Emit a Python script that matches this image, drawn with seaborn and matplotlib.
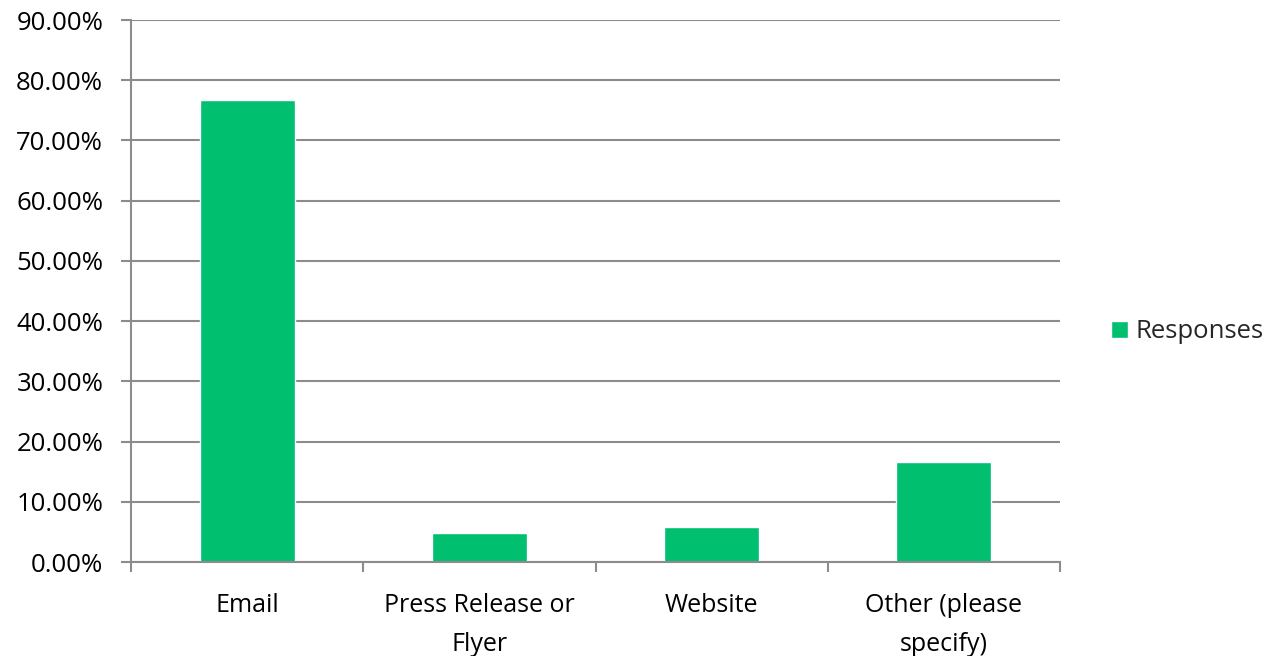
import seaborn as sns
import pandas as pd
import matplotlib.pyplot as plt
from matplotlib.ticker import FuncFormatter, FixedLocator

categories = ["Email", "Press Release or\nFlyer", "Website", "Other (please\nspecify)"]
responses = [76.7, 4.77, 5.86, 16.56]

data = pd.DataFrame({"Category": categories, "Value": responses, "Series": "Responses"})

sns.set_theme()
sns.set_style("white")
plt.rcParams["font.family"] = ["Open Sans", "DejaVu Sans"]

fig = plt.figure(figsize=(12.77, 6.56), dpi=100)
ax = fig.add_axes([131 / 1277, 1 - 562 / 656, (1060 - 131) / 1277, (562 - 20) / 656])

sns.barplot(data=data, x="Category", y="Value", hue="Series", palette=["#00bf6f"],
            width=0.41, ax=ax, saturation=1, legend=True)

ax.set_ylim(0, 90)
ax.set_xlim(-0.5, 3.5)
ax.set_yticks(range(0, 91, 10))
ax.yaxis.set_major_formatter(FuncFormatter(lambda v, p: f"{v:.2f}%"))
ax.yaxis.grid(True, color="#8c8c8c", linewidth=1.5)
ax.set_axisbelow(True)
ax.set_xlabel("")
ax.set_ylabel("")

for s in ["top", "right"]:
    ax.spines[s].set_visible(False)
for s in ["left", "bottom"]:
    ax.spines[s].set_color("#8c8c8c")
    ax.spines[s].set_linewidth(1.5)

ax.tick_params(axis="y", which="major", length=7, width=1.5, color="#8c8c8c",
               labelsize=18.5, labelcolor="#000000", left=True, pad=13)
ax.tick_params(axis="x", which="major", length=0, labelsize=18, labelcolor="#000000", pad=22)
for lbl in ax.get_xticklabels():
    lbl.set_linespacing(1.75)
ax.xaxis.set_minor_locator(FixedLocator([-0.5, 0.5, 1.5, 2.5, 3.5]))
ax.tick_params(axis="x", which="minor", length=7, width=1.5, color="#8c8c8c", bottom=True)

ax.get_legend().remove()
handles, labels = ax.get_legend_handles_labels()
fig.legend(handles, labels, loc="center left", bbox_to_anchor=(1088 / 1277, 1 - 332 / 656),
           frameon=False, fontsize=18.5, handlelength=0.65, handleheight=0.65, handletextpad=0.3)

fig.savefig("out.png", dpi=100)
